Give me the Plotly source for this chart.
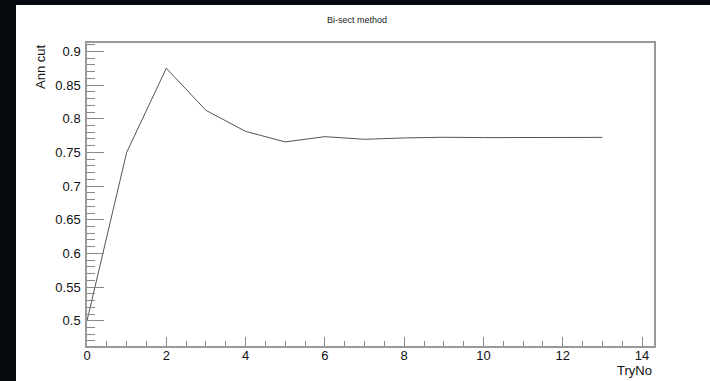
import plotly.graph_objects as go

try_no = [0, 1, 2, 3, 4, 5, 6, 7, 8, 9, 10, 11, 12, 13]
ann_cut = [0.5, 0.75, 0.875, 0.8125, 0.78125, 0.7656, 0.7734, 0.7695, 0.7715, 0.7725, 0.772, 0.7722, 0.7723, 0.7723]

W, H = 710, 381
L, R, T, B = 87, 56, 43, 35
pw, ph = W - L - R, H - T - B

fig = go.Figure()
fig.add_trace(go.Scatter(x=try_no, y=ann_cut, mode="lines",
                         line=dict(color="#555", width=1), showlegend=False))

font = "Liberation Sans, Arial, Helvetica, sans-serif"
dark = "#05080c"

fig.update_layout(
    width=W, height=H,
    margin=dict(l=L, r=R, t=T, b=B),
    paper_bgcolor="white",
    plot_bgcolor="white",
    font=dict(family=font, color="#111", size=13),
    shapes=[
        dict(type="rect", xref="paper", yref="paper", layer="above",
             x0=-L / pw - 0.01, x1=(16 - L) / pw,
             y0=-B / ph - 0.02, y1=(H - B) / ph + 0.02,
             fillcolor=dark, line=dict(width=0)),
        dict(type="rect", xref="paper", yref="paper", layer="above",
             x0=-L / pw - 0.01, x1=(W - L) / pw + 0.01,
             y0=(H - B - 5) / ph, y1=(H - B) / ph + 0.02,
             fillcolor=dark, line=dict(width=0)),
    ],
    annotations=[
        dict(text="Bi-sect method", xref="paper", yref="paper",
             x=(357 - L) / pw, y=(H - B - 20) / ph, showarrow=False,
             xanchor="center", yanchor="middle", font=dict(size=9, color="#222")),
        dict(text="Ann cut", xref="paper", yref="paper",
             x=(40 - L) / pw, y=1.0, showarrow=False, textangle=-90,
             xanchor="center", yanchor="top", font=dict(size=13, color="#111")),
        dict(text="TryNo", xref="paper", yref="paper",
             x=1.0, y=-(370 - (H - B)) / ph, showarrow=False,
             xanchor="right", yanchor="middle", font=dict(size=13, color="#111")),
    ],
)

fig.update_xaxes(range=[0, 14.3], dtick=2, tick0=0, ticks="inside", ticklen=9,
                 tickcolor="#888", tickwidth=1, showgrid=False, zeroline=False,
                 showline=True, linecolor="#999", linewidth=1.5, mirror=True,
                 minor=dict(dtick=0.5, ticks="inside", ticklen=5, tickcolor="#888"),
                 tickfont=dict(size=13, family=font), ticklabelstandoff=-3)
fig.update_yaxes(range=[0.4625, 0.9125], dtick=0.05, tick0=0.5, ticks="inside", ticklen=17,
                 tickcolor="#888", tickwidth=1, showgrid=False, zeroline=False,
                 showline=True, linecolor="#999", linewidth=1.5, mirror=True,
                 minor=dict(dtick=0.01, ticks="inside", ticklen=8, tickcolor="#888"),
                 tickfont=dict(size=13, family=font), ticklabelstandoff=2)

fig.write_html("out.html")
